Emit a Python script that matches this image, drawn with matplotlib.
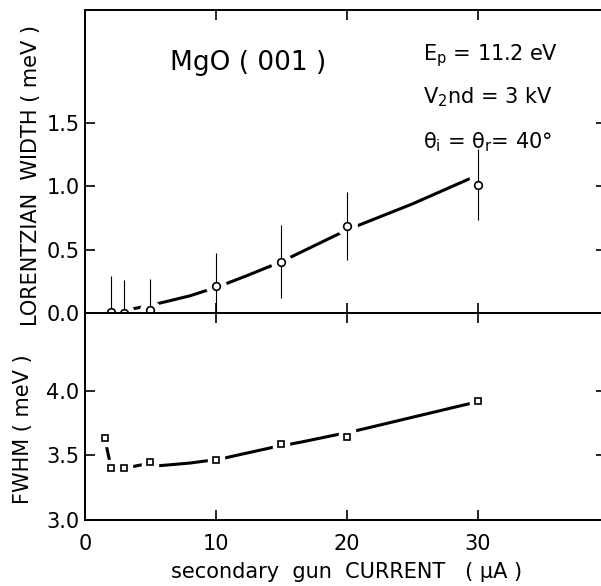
import numpy as np
import matplotlib.pyplot as plt

plt.rcParams['font.family'] = ['DejaVu Sans']
plt.rcParams['mathtext.default'] = 'regular'

# upper panel: Lorentzian width vs. secondary gun current
current_lw = [2, 3, 5, 10, 15, 20, 30]
lw_width = [0.01, 0.0, 0.02, 0.21, 0.405, 0.685, 1.01]
lw_err = [0.28, 0.26, 0.25, 0.26, 0.29, 0.27, 0.28]

# hand drawn guide line
fit_lw_x = [2, 3, 4, 5, 6, 7, 8, 9.2, 10, 10.5, 12.5, 15, 17.5, 20, 25, 29.4]
fit_lw_y = [0.0, 0.02, 0.04, 0.06, 0.085, 0.11, 0.135, 0.175, 0.2, 0.22,
            0.3, 0.405, 0.53, 0.655, 0.86, 1.06]

# lower panel: FWHM
current_fwhm = [1.5, 2, 3, 5, 10, 15, 20, 30]
fwhm = [3.637, 3.40, 3.40, 3.45, 3.46, 3.585, 3.64, 3.92]

fit_fwhm_x = [1.5, 2, 3, 5, 5.7, 8, 9.5, 10.7, 14.5, 16.4, 20.7, 29.4]
fit_fwhm_y = [3.637, 3.40, 3.40, 3.44, 3.42, 3.44, 3.46, 3.48, 3.565, 3.60,
              3.69, 3.90]

x_ticks = [0, 10, 20, 30]
lw_ticks = [0.0, 0.5, 1.0, 1.5]
fwhm_ticks = [3.0, 3.5, 4.0]

fig = plt.figure(figsize=(6.01, 5.86), dpi=100)
W, H = 601.0, 586.0
left, right = 85 / W, 606 / W
ax1 = fig.add_axes([left, 1 - 313 / H, right - left, 303 / H])
ax2 = fig.add_axes([left, 1 - 520 / H, right - left, 207 / H])

for ax in (ax1, ax2):
    ax.set_xlim(0, 39.8)
    ax.set_xticks(x_ticks)
    ax.tick_params(direction='in', length=7.5, width=1.2, top=True,
                   right=True, labelsize=15, pad=4)
    ax.tick_params(axis='x', pad=10)
    for s in ax.spines.values():
        s.set_linewidth(1.4)

# ---- upper panel
ax1.set_ylim(0, 2.39)
ax1.set_yticks(lw_ticks)
ax1.tick_params(labelbottom=False)
ax1.plot(fit_lw_x, fit_lw_y, color='black', lw=2.2, zorder=2, solid_capstyle='butt')
ax1.plot(current_lw, lw_width, 'o', ms=14, color='white', mec='white', zorder=3)
ax1.errorbar(current_lw, lw_width, yerr=lw_err, fmt='none', ecolor='black',
             elinewidth=0.8, capsize=0, zorder=4)
ax1.plot(current_lw, lw_width, 'o', ms=5.5, mfc='white', mec='black',
         mew=1.2, zorder=5, clip_on=False)

fig.text(170 / W, 1 - 70 / H, 'MgO ( 001 )', fontsize=19, ha='left', va='baseline')
fig.text(423 / W, 1 - 60 / H, r'$E_p$ = 11.2 eV', fontsize=15, ha='left', va='baseline')
fig.text(423 / W, 1 - 103 / H, r'$V_2$nd = 3 kV', fontsize=15, ha='left', va='baseline')
fig.text(423 / W, 1 - 148 / H, r'$\theta_i$ = $\theta_r$= 40°', fontsize=15,
         ha='left', va='baseline')

# ---- lower panel
ax2.set_ylim(3.0, 4.60)
ax2.set_yticks(fwhm_ticks)
ax2.plot(fit_fwhm_x, fit_fwhm_y, color='black', lw=2.2, zorder=2, solid_capstyle='butt')
ax2.plot(current_fwhm, fwhm, 's', ms=12, color='white', mec='white', zorder=3)
ax2.plot(current_fwhm, fwhm, 's', ms=5, mfc='white', mec='black',
         mew=1.2, zorder=5)

fig.text(31 / W, 1 - 175 / H, 'LORENTZIAN  WIDTH ( meV )', rotation=90,
         fontsize=15, ha='center', va='center')
fig.text(23 / W, 1 - 429 / H, 'FWHM ( meV )', rotation=90,
         fontsize=15, ha='center', va='center')
fig.text(347 / W, 1 - 578 / H, 'secondary  gun  CURRENT   ( µA )', fontsize=15,
         ha='center', va='baseline')

fig.savefig('out.png', dpi=100)
